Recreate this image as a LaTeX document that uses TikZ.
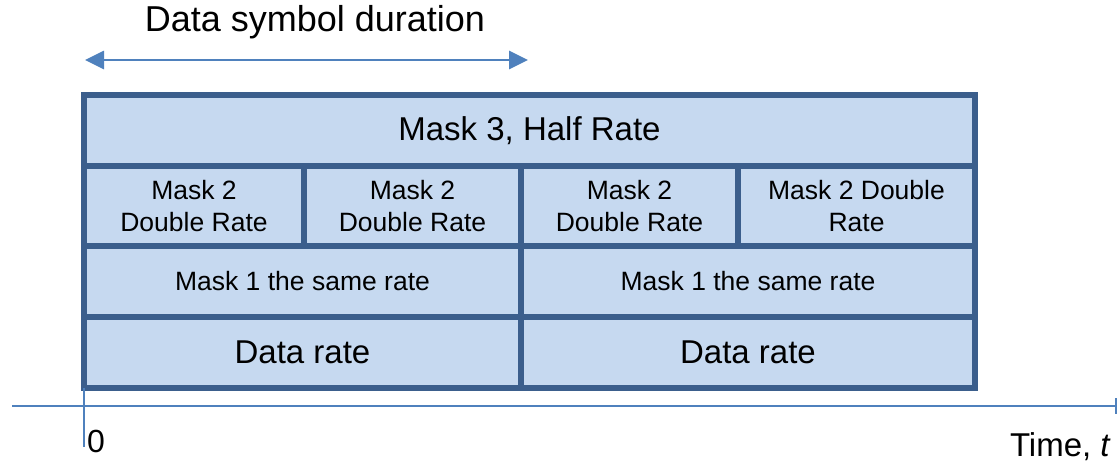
\documentclass[tikz,border=0pt]{standalone}
\usepackage{fontspec}
\setmainfont{Liberation Sans}
\usetikzlibrary{arrows.meta}
\definecolor{boxblue}{RGB}{59,94,140}
\definecolor{cellblue}{RGB}{198,217,240}
\definecolor{axisblue}{RGB}{79,129,189}

\begin{document}
\begin{tikzpicture}[x=1pt, y=-1pt,
    cell/.style={rectangle, draw=boxblue, fill=cellblue, line width=6pt, inner sep=0pt, outer sep=0pt, align=center},
    big/.style={font=\fontsize{33}{40}\selectfont},
    small/.style={font=\fontsize{26.5}{32}\selectfont}
  ]
    \useasboundingbox (0,0) rectangle (1117,463);
    % title and duration arrow
    \node[font=\fontsize{36}{43}\selectfont] (title) at (315,22) {Data symbol duration};
    \coordinate (dl) at (85,60);
    \coordinate (dr) at (528,60);
    \draw[axisblue, line width=2.7pt, {Triangle[length=19pt,width=18pt]}-{Triangle[length=19pt,width=18pt]}] (dl) -- (dr);
    % rows of the frame
    \node[cell, big, minimum width=891, minimum height=71] (m3) at (529.5,130.5) {Mask 3, Half Rate};
    \node[cell, small, minimum width=220, minimum height=80] (m2a) at (194,206) {Mask 2\\Double Rate};
    \node[cell, small, minimum width=217, minimum height=80] (m2b) at (412.5,206) {Mask 2\\Double Rate};
    \node[cell, small, minimum width=217, minimum height=80] (m2c) at (629.5,206) {Mask 2\\Double Rate};
    \node[cell, small, minimum width=237, minimum height=80] (m2d) at (856.5,206) {Mask 2 Double\\Rate};
    \node[cell, small, minimum width=437, minimum height=71] (m1a) at (302.5,281.5) {Mask 1 the same rate};
    \node[cell, small, minimum width=454, minimum height=71] (m1b) at (748,281.5) {Mask 1 the same rate};
    \node[cell, big, minimum width=437, minimum height=71] (d1) at (302.5,352.5) {Data rate};
    \node[cell, big, minimum width=454, minimum height=71] (d2) at (748,352.5) {Data rate};
    % time axis
    \coordinate (ax0) at (12,406);
    \coordinate (ax1) at (1116,406);
    \coordinate (tk0) at (1116,398);
    \coordinate (tk1) at (1116,414);
    \coordinate (zero) at (84,447);
    \draw[axisblue, line width=2pt] (ax0) -- (ax1);
    \draw[axisblue, line width=2pt] (tk0) -- (tk1);
    \draw[axisblue, line width=2pt] (d1.south west) -- (zero);
    \node[font=\fontsize{32}{38}\selectfont, anchor=base west, inner sep=0pt] (origin) at (87,452) {0};
    \node[font=\fontsize{33}{40}\selectfont, anchor=base east, inner sep=0pt] (time) at (1111,456) {Time, \textit{t}};
\end{tikzpicture}
\end{document}
